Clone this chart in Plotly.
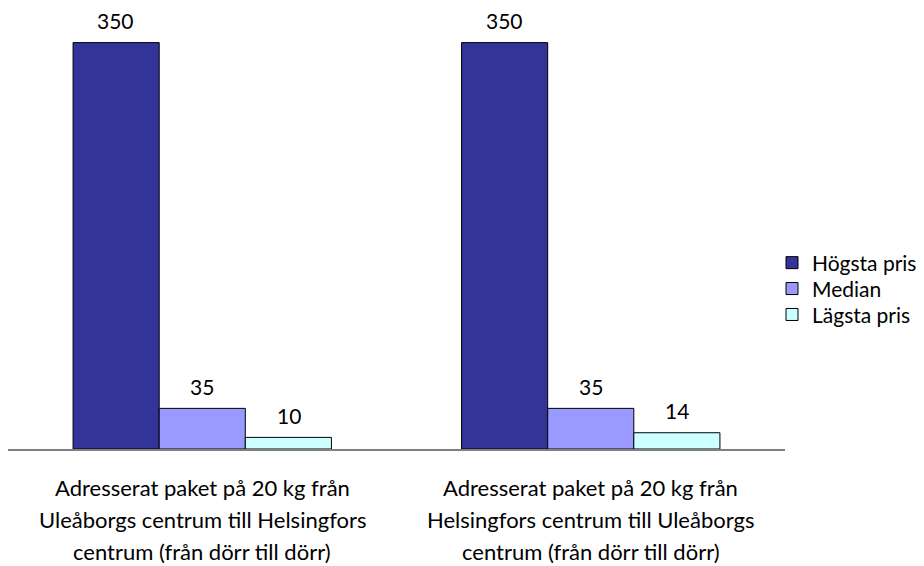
import plotly.graph_objects as go

categories = [
    "Adresserat paket på 20 kg från<br>Uleåborgs centrum till Helsingfors<br>centrum (från dörr till dörr)",
    "Adresserat paket på 20 kg från<br>Helsingfors centrum till Uleåborgs<br>centrum (från dörr till dörr)",
]
cat_keys = ["c1", "c2"]
series_names = ["Högsta pris", "Median", "Lägsta pris"]
hogsta = [350, 350]
median = [35, 35]
lagsta = [10, 14]
colors = ["#333399", "#9999FF", "#CCFFFF"]

FONT = "Lato"
FS = 21
values = [hogsta, median, lagsta]
legend_ids = ["legend", "legend2", "legend3"]
legend_y = [0.445, 0.383, 0.321]

fig = go.Figure()
for name, vals, col, lid in zip(series_names, values, colors, legend_ids):
    fig.add_trace(go.Bar(
        x=cat_keys, y=vals, name=name, legend=lid,
        marker=dict(color=col, line=dict(color="#000000", width=1)),
    ))

annotations = []
bar_px = 86.5
for j, vals in enumerate(values):
    for k, v in zip(cat_keys, vals):
        annotations.append(dict(
            x=k, y=v, xref="x", yref="y", text=str(v), showarrow=False,
            xshift=(j - 1) * bar_px, yanchor="middle", yshift=22,
            font=dict(family=FONT, size=FS, color="#000000"),
        ))
for k, lab in zip(cat_keys, categories):
    for i, line in enumerate(lab.split("<br>")):
        annotations.append(dict(
            x=k, y=0, xref="x", yref="paper", text=line, showarrow=False,
            yanchor="middle", yshift=-38 - 32 * i,
            font=dict(family=FONT, size=22, color="#000000"),
        ))

legend_common = dict(x=764 / 777, xanchor="left", yanchor="middle",
                     font=dict(family=FONT, size=FS),
                     bgcolor="rgba(0,0,0,0)")

fig.update_layout(
    width=924, height=566,
    margin=dict(l=0, r=147, t=23, b=125),
    paper_bgcolor="white", plot_bgcolor="white",
    barmode="group", bargap=0.335, bargroupgap=0,
    font=dict(family=FONT, size=FS, color="#000000"),
    showlegend=True,
    legend=dict(y=legend_y[0], **legend_common),
    legend2=dict(y=legend_y[1], **legend_common),
    legend3=dict(y=legend_y[2], **legend_common),
    annotations=annotations,
    xaxis=dict(showticklabels=False, showline=True, linecolor="#808080",
               linewidth=2, ticks="", showgrid=False, zeroline=False),
    yaxis=dict(visible=False, range=[0, 360], showgrid=False, zeroline=False),
)
fig.write_html("out.html")
